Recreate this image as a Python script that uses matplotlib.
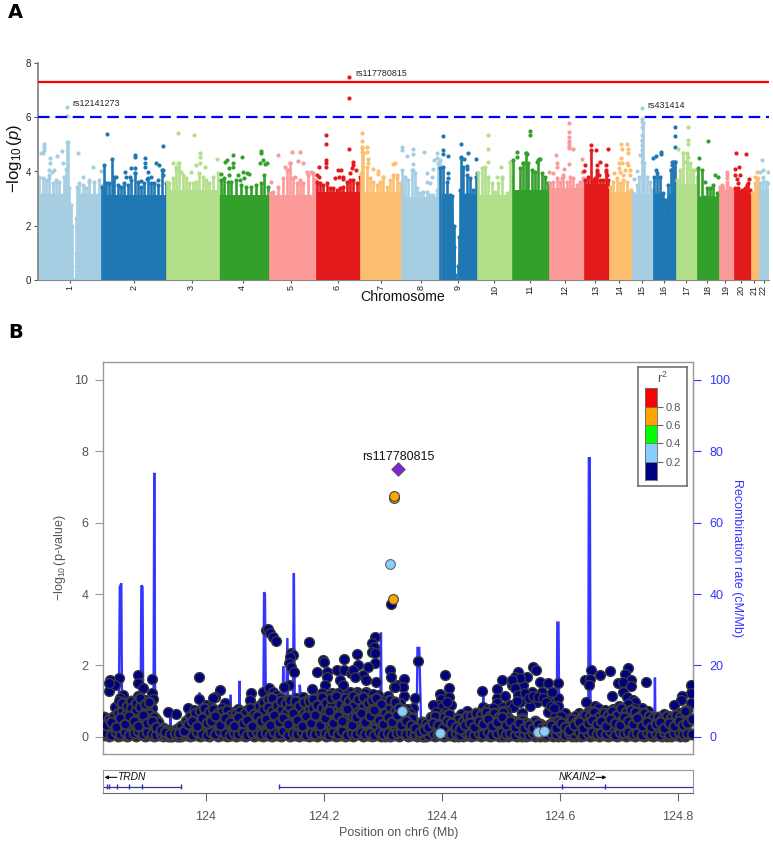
import numpy as np
import matplotlib
matplotlib.use("Agg")
import matplotlib.pyplot as plt

plt.rcParams["font.family"] = ["Liberation Sans", "DejaVu Sans"]
plt.rcParams["mathtext.fontset"] = "custom"
plt.rcParams["mathtext.rm"] = "Liberation Sans"
plt.rcParams["mathtext.it"] = "Liberation Sans:italic"

# ---- Panel A: Manhattan plot, position is a cumulative genome position
chrom_names = ["1", "2", "3", "4", "5", "6", "7", "8", "9", "10", "11", "12", "13", "14", "15",
               "16", "17", "18", "19", "20", "21", "22"]
chrom_ends = [64, 127.5, 179.5, 229.5, 277, 322, 364, 402, 438.7, 474, 509.7, 544.7, 570, 592.7,
              614.3, 637.7, 659, 679.7, 695, 711.7, 720, 731]
# height up to which each chromosome is a solid block
chrom_solid = [3.2, 3.13, 3.3, 3.13, 3.13, 3.25, 3.25, 3.05, 3.2, 3.13, 3.3, 3.4, 3.55, 3.25, 3.2, 3.2, 3.55, 3.1,
               3.35, 3.3, 3.2, 3.3]
paired = ["#a6cee3", "#1f78b4", "#b2df8a", "#33a02c", "#fb9a99", "#e31a1c", "#fdbf6f"]

# tallest SNP read at positions along each chromosome
chr1_top = [(0, 3.7), (1.3, 3.8), (4.7, 3.75), (8, 3.69), (11.3, 3.75), (14.7, 3.56), (18, 3.69), (21.3, 3.62),
            (26.3, 3.81), (27.5, 4.1), (28.5, 5.1), (29.5, 5.1), (30.5, 3.4), (32.7, 2.76), (33.5, 2.0), (34.3, 0.5),
            (34.6, 0), (37.2, 0), (37.5, 1.0), (38, 2.27), (38.7, 3.44), (41.3, 3.56), (44.7, 3.5), (48, 3.38),
            (51.3, 3.62), (56.3, 3.62), (61.3, 3.69), (64, 3.5)]
chr2_top = [(64, 3.44), (66.3, 4.24), (68, 3.56), (71.3, 3.56), (74, 4.45), (76.3, 3.81), (79.7, 3.5), (83, 3.44),
            (86.3, 3.56), (89.7, 3.5), (93, 3.69), (97.3, 3.93), (99.7, 3.62), (103, 3.44), (106.3, 3.56),
            (109.7, 3.75), (113, 3.56), (116.3, 3.56), (119.7, 3.5), (124, 4.05), (127.5, 3.56)]
chr3_top = [(128.7, 3.62), (131.3, 3.56), (134.7, 3.75), (138, 4.05), (141.3, 4.3), (144.7, 3.87), (148, 3.75),
            (151.3, 3.56), (154.7, 3.56), (158, 3.62), (161.3, 3.93), (164.7, 3.81), (168, 3.69), (171.3, 3.56),
            (174.7, 3.81), (179.5, 3.93)]
chr4_top = [(183, 3.69), (186.3, 3.75), (189.7, 3.62), (193, 3.62), (198, 3.69), (203, 3.5), (208, 3.44), (213, 3.44),
            (218, 3.5), (223, 3.56), (226.3, 3.87), (229.5, 3.44)]
chr5_top = [(232, 3.19), (235.3, 3.26), (240.3, 3.44), (245.3, 3.75), (248.7, 4.05), (252, 4.3), (255.3, 3.75),
            (258.7, 3.56), (262, 3.69), (265.3, 3.56), (270.3, 3.87), (275.3, 3.93), (277, 3.69)]
chr6_top = [(278.7, 3.62), (282, 3.56), (285.3, 3.5), (288.7, 3.56), (292, 3.38), (295.3, 3.38), (298.7, 3.32),
            (302, 3.38), (305.3, 3.44), (308.7, 3.62), (312, 3.69), (315.3, 3.69), (318.7, 3.56), (322, 3.81)]
chr7_top = [(322.7, 3.93), (323.7, 4.85), (325.3, 4.67), (328.7, 4.18), (332, 3.75), (335.3, 3.62), (338.7, 3.5),
            (342, 3.62), (345.3, 3.81), (348.7, 3.44), (352, 3.69), (355.3, 3.87), (358.7, 3.75), (362, 3.56),
            (364, 3.5)]
chr8_top = [(364.3, 4.05), (367, 3.81), (370.3, 3.69), (373.7, 4.05), (377, 3.93), (378.7, 3.38), (382, 3.19),
            (385.3, 3.26), (388.7, 3.26), (392, 3.13), (395.3, 3.13), (398.7, 3.32), (400.3, 4.3), (402, 4.42)]
chr9_top = [(402, 4.12), (405.3, 4.18), (408.7, 3.62), (412, 3.13), (414, 3.1), (415.5, 2.0), (416.3, 1.2), (417, 0.2),
            (417.2, 0), (419.5, 0), (419.7, 0.5), (421, 1.6), (422, 3.3), (422.5, 4.5), (425.3, 4.18), (428.7, 3.87),
            (432, 3.75), (435.3, 3.32), (438, 3.81), (438.7, 3.93)]
chr10_top = [(440.3, 3.93), (443.7, 4.12), (447, 4.18), (450.3, 3.81), (453.7, 3.56), (457, 3.26), (460.3, 3.56),
             (463.7, 3.75), (468.7, 3.19), (472, 4.36), (474, 3.81)]
chr11_top = [(475.3, 4.42), (482, 4.12), (485.3, 4.3), (488, 4.67), (490.3, 4.3), (493.7, 4.05), (497, 3.99),
             (500.3, 4.42), (503.7, 3.93), (507, 3.81), (509.7, 3.56)]
chr12_top = [(512, 3.56), (515.3, 3.62), (518.7, 3.75), (522, 3.62), (525.3, 3.81), (528.7, 3.62), (532, 3.81),
             (535.3, 3.75), (538.7, 3.5), (542, 3.62), (544.7, 3.75)]
chr13_top = [(547, 3.69), (550.3, 3.81), (552.7, 4.79), (554.7, 3.69), (557, 3.75), (559.3, 4.05), (562, 3.69),
             (565.3, 3.69), (568, 4.05), (570, 3.69)]
chr14_top = [(572, 3.44), (575.3, 3.62), (578.7, 3.75), (582, 3.56), (585.3, 3.69), (588.7, 3.62), (592, 3.26),
             (592.7, 3.32)]
chr15_top = [(595.3, 3.19), (598.7, 3.5), (601.3, 3.81), (603.7, 5.16), (604.7, 5.78), (606, 4.3), (608.7, 3.81),
             (612, 3.62), (614.3, 3.32)]
chr16_top = [(616, 3.81), (618.7, 3.93), (622, 3.81), (624.7, 3.19), (626, 2.2), (627.3, 2.95), (630.3, 3.5),
             (633, 4.05), (634.7, 4.36), (637, 4.36), (637.7, 3.56)]
chr17_top = [(639.3, 3.69), (642, 4.05), (645.3, 4.67), (648.7, 4.67), (652, 4.3), (655.3, 4.05), (659, 3.81)]
chr18_top = [(660.3, 4.12), (663.7, 4.05), (666, 3.07), (668.7, 3.38), (672, 3.38), (675.3, 3.5), (678.7, 3.19),
             (679.7, 3.13)]
chr19_top = [(682, 3.44), (685.3, 3.38), (688.7, 3.5), (692, 3.38), (695, 3.32)]
chr20_top = [(697, 3.38), (700.3, 3.38), (703.7, 3.32), (707, 3.38), (710.3, 3.56), (711.7, 3.32)]
chr21_top = [(713.7, 3.19), (717, 3.56), (719.3, 3.69), (720, 3.5)]
chr22_top = [(722, 3.56), (724.7, 3.81), (728, 3.62), (731, 3.56)]

# single SNPs standing above the mass
chr1_pts = [(29, 6.38), (29, 6.03), (3, 4.69), (6.3, 5.01), (6.3, 4.92), (6.3, 4.79), (4.7, 4.67), (12, 4.49), (12, 4.3),
            (11.3, 4.05), (18.7, 4.57), (24, 4.77), (24.7, 4.3), (16.3, 4.05), (14, 3.99), (11.3, 3.87), (40.3, 4.67),
            (55.3, 4.18), (63, 4.02), (44.7, 3.81), (50.7, 3.69)]
chr2_pts = [(69, 5.38), (124.7, 4.95), (97.3, 4.61), (97.3, 4.52), (107, 4.49), (107, 4.33), (118, 4.33), (120.7, 4.23),
            (97.3, 4.12), (93, 4.12), (87.3, 3.99), (97.3, 3.93), (88, 3.81), (92.3, 3.81), (107, 4.18), (109.7, 3.99),
            (113, 3.81), (108.7, 3.71), (103, 3.65), (124.7, 4.05), (124.7, 3.87), (119.7, 3.69), (78, 3.81)]
chr3_pts = [(140.3, 5.43), (156, 5.33), (162, 4.69), (162, 4.55), (178.7, 4.47), (162, 4.33), (158, 4.24), (139.7, 4.3),
            (134.7, 4.3), (153, 3.99), (167.3, 4.15), (138, 4.18), (143, 3.99)]
chr4_pts = [(195.3, 4.62), (204, 4.55), (222.7, 4.77), (222.7, 4.67), (229, 4.3), (224.7, 4.42), (222, 4.33),
            (226.7, 4.28), (188.7, 4.42), (187.3, 4.36), (195.3, 4.3), (194.7, 4.18), (190.7, 4.12), (183, 3.91),
            (204.7, 3.99), (208.7, 3.93), (211.3, 3.91), (199.7, 3.87), (191.3, 3.87), (202, 3.69), (206.3, 3.75)]
chr5_pts = [(239.7, 4.61), (253.7, 4.73), (262, 4.71), (260.3, 4.4), (264.7, 4.3), (252, 4.33), (247, 4.18), (268.7, 3.99),
            (272.7, 3.99), (233, 3.62), (250.3, 4.05), (257, 3.81)]
chr6_pts = [(311, 7.5), (311, 6.7), (288, 5.35), (288, 5.01), (311, 4.83), (288, 4.42), (288, 4.33), (288, 4.18),
            (281.3, 4.15), (315.3, 4.36), (315.3, 4.24), (313.7, 4.12), (300.3, 4.05), (302.7, 4.05), (318, 4.05),
            (312, 3.93), (297, 3.75), (301.3, 3.81), (304.7, 3.81), (304.7, 3.71), (278.7, 3.87), (281.3, 3.81)]
chr7_pts = [(324, 5.41), (324, 5.13), (324, 4.9), (324, 4.73), (328.7, 4.92), (328.7, 4.73), (330.3, 4.45), (330.3, 4.3),
            (357, 4.3), (355.3, 4.26), (335.3, 4.08), (340.3, 4.02), (340.3, 3.91), (345.3, 3.81), (358.7, 3.87)]
chr8_pts = [(364.3, 4.89), (364.3, 4.79), (375.3, 4.84), (375.3, 4.65), (369.3, 4.58), (386.3, 4.72), (375.3, 4.26),
            (398.7, 4.67), (398.7, 4.49), (396.3, 4.42), (375.3, 4.05), (388.7, 3.93), (393.7, 3.78), (388.7, 3.62),
            (392, 3.56), (394.7, 4.08)]
chr9_pts = [(404.7, 5.3), (404.7, 4.79), (404.7, 4.63), (410, 4.56), (422.7, 5.03), (430, 4.67), (422.7, 4.55),
            (426, 4.45), (438.2, 4.47), (428.7, 4.2), (428.7, 4.08), (410.3, 3.93), (410.3, 3.75)]
chr10_pts = [(450, 5.36), (450, 4.82), (450.3, 4.36), (462.7, 4.18), (472, 4.36), (463.7, 3.81), (459.3, 3.81)]
chr11_pts = [(492, 5.51), (492, 5.35), (488, 4.67), (501.3, 4.45), (498.7, 4.36), (479.3, 4.73), (479.3, 4.55),
             (488.7, 4.65), (502, 4.45), (485, 4.3)]
chr12_pts = [(531.3, 5.78), (531.3, 5.45), (531.3, 5.29), (531.3, 5.14), (531.3, 5.04), (531.3, 4.94), (531.3, 4.85),
             (535.3, 4.83), (517.7, 4.62), (544.2, 4.47), (531.3, 4.28), (526, 4.1), (511.3, 3.99), (514.7, 3.96),
             (544.3, 3.99), (523.7, 3.75), (525.3, 3.87), (518.7, 4.3), (518.7, 4.18)]
chr13_pts = [(552.7, 4.98), (558.3, 4.79), (569.5, 4.84), (562, 4.34), (559.3, 4.24), (568, 4.24), (547.3, 4.24),
             (546, 4.03), (559.3, 3.99), (568, 3.99), (569.3, 3.87), (558.7, 3.87), (561.3, 3.87)]
chr14_pts = [(583.3, 5.01), (588.7, 5.01), (590.3, 4.82), (583.7, 4.82), (590.3, 4.67), (582.7, 4.51), (580.7, 4.33),
             (583.7, 4.33), (588.7, 4.33), (590.3, 4.24), (581.3, 4.14), (587, 4.05), (592, 4.05), (582, 3.99),
             (576.3, 3.93), (592, 3.87), (585.3, 3.87)]
chr15_pts = [(604.3, 6.33), (604.3, 5.95), (604.3, 5.84), (604.3, 5.65), (604.3, 5.35), (604.3, 5.14), (604.3, 4.98),
             (602, 4.61), (599.3, 4.03), (596, 3.72), (604.3, 4.79), (604.3, 4.36)]
chr16_pts = [(637, 5.65), (637, 5.32), (637, 4.89), (623, 4.71), (623, 4.63), (618, 4.57), (615.3, 4.49), (633.7, 4.36),
             (633.7, 4.24), (632.7, 4.05), (637, 4.36), (618, 4.05)]
chr17_pts = [(649.7, 5.63), (649.7, 5.16), (649.7, 5.01), (640.3, 4.83), (645.3, 4.67), (650.3, 4.55), (647, 4.36),
             (650.3, 4.3), (657, 4.05), (648.7, 4.12)]
chr18_pts = [(669.7, 5.11), (661, 4.5), (677, 3.86), (679.5, 3.78), (667.3, 3.6)]
chr19_pts = [(689.3, 3.99), (689.3, 3.87), (689.3, 3.75), (689.3, 3.62), (683.7, 3.5)]
chr20_pts = [(698.3, 4.67), (708, 4.65), (700.7, 4.18), (697, 4.08), (702, 3.87), (697, 3.87), (698.7, 3.71), (700.3, 3.59),
             (711.3, 3.71), (708.7, 3.5)]
chr21_pts = [(719.3, 3.98), (717, 3.81), (719.5, 3.75)]
chr22_pts = [(724, 4.42), (722, 3.99), (725.3, 4.05), (730.3, 3.99)]

chrom_tops = [chr1_top, chr2_top, chr3_top, chr4_top, chr5_top, chr6_top, chr7_top, chr8_top, chr9_top, chr10_top,
              chr11_top, chr12_top, chr13_top, chr14_top, chr15_top, chr16_top, chr17_top, chr18_top, chr19_top,
              chr20_top, chr21_top, chr22_top]
chrom_pts = [chr1_pts, chr2_pts, chr3_pts, chr4_pts, chr5_pts, chr6_pts, chr7_pts, chr8_pts, chr9_pts, chr10_pts,
             chr11_pts, chr12_pts, chr13_pts, chr14_pts, chr15_pts, chr16_pts, chr17_pts, chr18_pts, chr19_pts,
             chr20_pts, chr21_pts, chr22_pts]

genome_line = 7.3
suggestive_line = 6
top_snps = [("rs12141273", 34, 6.52), ("rs117780815", 317, 7.63), ("rs431414", 609, 6.45)]

# ---- Panel B: regional association plot
lead_snp = (124.326, 7.5)
orange_snps = [(124.318, 6.69), (124.319, 6.73), (124.3165, 3.87)]
blue_snps = [(124.312, 4.85), (124.332, 0.74), (124.397, 0.12), (124.563, 0.15), (124.573, 0.17)]

# low LD SNPs above the dense band
navy_upper = [(124.3136, 3.72), (124.101, 3.0), (124.105, 3.02), (124.109, 2.91), (124.114, 2.81), (124.119, 2.68),
              (124.174, 2.66), (124.287, 2.79), (124.281, 2.63), (124.284, 2.53), (124.281, 2.37), (124.287, 2.35),
              (124.287, 2.07), (124.256, 2.32), (124.234, 2.19), (124.199, 2.16), (124.2, 2.09), (124.144, 2.35),
              (124.147, 2.28), (124.142, 2.25), (124.14, 2.07), (124.144, 1.97), (124.15, 1.81), (124.188, 1.81),
              (124.205, 1.83), (124.205, 1.69), (124.222, 1.88), (124.234, 1.88), (124.245, 1.79), (124.258, 2.02),
              (124.25, 1.88), (124.267, 1.74), (124.275, 1.97), (124.228, 1.58), (124.233, 1.46), (124.253, 1.69),
              (124.272, 1.6), (124.312, 1.86), (124.313, 1.69), (124.202, 1.46), (124.288, 1.53), (124.318, 1.41),
              (124.326, 1.46), (123.989, 1.67), (123.885, 1.72), (123.884, 1.52), (123.908, 1.63), (123.853, 1.64),
              (123.837, 1.6), (123.835, 1.3), (123.846, 1.46), (123.836, 1.5), (123.894, 1.36), (124.024, 1.32),
              (124.077, 1.22), (124.075, 1.04), (124.015, 1.13), (124.032, 0.94), (124.012, 1.08), (123.988, 1.06),
              (124.097, 1.27), (124.106, 1.36), (124.114, 1.27), (124.119, 1.18), (124.14, 1.46), (124.133, 1.41),
              (124.179, 1.34), (124.196, 1.22), (124.214, 1.24), (124.244, 1.27), (124.256, 1.27), (124.272, 1.27),
              (124.292, 1.18), (124.309, 1.15), (123.86, 1.18), (123.908, 1.22), (123.911, 1.06), (123.854, 1.08),
              (123.885, 1.15), (123.899, 1.04), (123.871, 0.99), (123.936, 0.69), (123.95, 0.64), (123.97, 0.8),
              (123.908, 0.8), (123.979, 0.76), (124.36, 2.12), (124.405, 1.74), (124.336, 1.62), (124.412, 1.36),
              (124.468, 1.3), (124.501, 1.58), (124.493, 1.34), (124.529, 1.83), (124.524, 1.69), (124.555, 1.97),
              (124.559, 1.88), (124.566, 1.55), (124.58, 1.5), (124.596, 1.52), (124.642, 1.6), (124.653, 1.86),
              (124.651, 1.62), (124.649, 1.46), (124.668, 1.74), (124.685, 1.85), (124.716, 1.93), (124.71, 1.77),
              (124.72, 1.58), (124.699, 1.5), (124.707, 1.53), (124.72, 1.43), (124.745, 1.54), (124.707, 1.25),
              (124.688, 1.15), (124.713, 1.11), (124.723, 1.04), (124.728, 0.99), (124.644, 0.99), (124.822, 1.46),
              (124.822, 1.24), (124.822, 0.94), (124.806, 1.15), (124.805, 1.04), (124.794, 0.9), (124.739, 0.8),
              (124.744, 0.62), (124.632, 0.68), (124.659, 0.87), (124.665, 0.8), (124.69, 0.78), (124.518, 1.46),
              (124.538, 1.46), (124.544, 1.69), (124.532, 1.64), (124.518, 1.6), (124.524, 1.36), (124.529, 1.18),
              (124.544, 1.13), (124.552, 1.27), (124.561, 0.99), (124.549, 0.87), (124.569, 1.27), (124.58, 1.04),
              (124.592, 0.99), (124.597, 1.08), (124.597, 0.87), (124.586, 1.27), (124.579, 0.71), (124.592, 0.59),
              (124.609, 0.66), (124.617, 0.52), (124.354, 1.08), (124.351, 0.8), (124.336, 1.15), (124.329, 0.94),
              (124.334, 1.41), (124.32, 1.41), (124.396, 1.21), (124.398, 1.07), (124.394, 0.9), (124.412, 1.11),
              (124.416, 0.9), (124.4, 0.85), (124.384, 0.9), (124.405, 0.71), (124.414, 0.46), (124.442, 0.74),
              (124.47, 0.85), (124.459, 0.52), (124.493, 1.08), (124.494, 0.94), (124.506, 1.15), (124.504, 0.83),
              (124.515, 0.9), (124.521, 0.85), (124.532, 0.99), (124.536, 0.68), (124.536, 0.52), (124.49, 0.71),
              (124.496, 0.57), (124.51, 0.59)]

# mid level SNPs filling the taller stretches of the band
navy_mid = [(123.846, 0.85), (123.852, 1.0), (123.857, 0.8), (123.863, 0.92), (123.869, 0.72), (123.876, 0.9),
            (123.88, 0.68), (123.888, 0.84), (123.893, 0.7), (123.9, 0.78), (123.906, 0.62), (123.915, 0.5),
            (124.0, 0.9), (124.008, 0.84), (124.018, 0.72), (124.027, 0.8), (124.035, 0.6), (124.047, 0.7),
            (124.055, 0.78), (124.062, 0.6), (124.07, 0.76), (124.082, 0.72), (124.09, 0.6), (124.094, 0.9),
            (124.103, 0.84), (124.108, 1.12), (124.111, 0.9), (124.117, 0.98), (124.123, 0.82), (124.126, 1.08),
            (124.131, 0.88), (124.137, 1.04), (124.141, 0.82), (124.147, 0.96), (124.152, 1.1), (124.156, 0.78),
            (124.161, 0.94), (124.164, 1.12), (124.169, 0.84), (124.172, 1.04), (124.177, 0.76), (124.183, 0.92),
            (124.186, 1.1), (124.192, 0.84), (124.194, 1.02), (124.199, 0.76), (124.207, 0.92), (124.21, 1.18),
            (124.215, 0.8), (124.218, 1.02), (124.224, 1.22), (124.225, 0.88), (124.23, 1.06), (124.233, 0.76),
            (124.238, 1.18), (124.241, 0.94), (124.246, 1.1), (124.248, 0.78), (124.252, 1.04), (124.255, 1.2),
            (124.26, 0.86), (124.263, 1.12), (124.268, 0.96), (124.27, 1.22), (124.276, 0.84), (124.278, 1.08),
            (124.283, 1.2), (124.285, 0.92), (124.29, 1.06), (124.294, 0.8), (124.299, 1.0), (124.302, 0.72),
            (124.307, 0.9), (124.315, 0.98), (124.323, 0.82), (124.33, 0.6), (124.34, 0.78), (124.345, 0.66),
            (124.39, 0.7), (124.402, 0.62), (124.408, 0.98), (124.423, 0.52), (124.433, 0.64), (124.448, 0.6),
            (124.464, 0.66), (124.476, 0.78), (124.482, 0.62), (124.487, 0.82), (124.501, 0.74), (124.508, 0.72),
            (124.527, 1.02), (124.54, 1.24), (124.548, 1.1), (124.555, 1.16), (124.563, 1.12), (124.572, 1.1),
            (124.576, 0.98), (124.584, 0.88), (124.59, 0.82), (124.602, 0.6), (124.625, 0.58), (124.638, 0.62),
            (124.647, 0.7), (124.655, 0.74), (124.67, 0.66), (124.676, 0.76), (124.683, 0.62), (124.694, 0.72),
            (124.7, 0.86), (124.708, 0.76), (124.716, 0.92), (124.718, 0.74), (124.725, 0.82), (124.732, 0.7),
            (124.75, 0.72), (124.755, 0.6), (124.776, 0.64), (124.785, 0.6), (124.801, 0.68), (124.816, 0.76)]

# dense band near zero
band_pos = [123.828, 123.835, 123.842, 123.851, 123.858, 123.866, 123.873, 123.882, 123.889, 123.897, 123.904,
            123.912, 123.919, 123.927, 123.935, 123.942, 123.951, 123.958, 123.966, 123.973, 123.981, 123.99,
            123.997, 124.005, 124.012, 124.02, 124.028, 124.036, 124.043, 124.051, 124.058, 124.066, 124.074,
            124.081, 124.09, 124.097, 124.105, 124.112, 124.12, 124.128, 124.135, 124.143, 124.151, 124.158,
            124.166, 124.174, 124.181, 124.189, 124.197, 124.204, 124.212, 124.22, 124.227, 124.235, 124.243,
            124.25, 124.258, 124.266, 124.274, 124.281, 124.289, 124.296, 124.304, 124.312, 124.32, 124.327,
            124.335, 124.343, 124.35, 124.357, 124.366, 124.373, 124.381, 124.389, 124.397, 124.404, 124.412,
            124.42, 124.427, 124.435, 124.443, 124.45, 124.458, 124.466, 124.474, 124.481, 124.489, 124.497,
            124.504, 124.512, 124.52, 124.527, 124.535, 124.543, 124.551, 124.558, 124.566, 124.574, 124.581,
            124.589, 124.597, 124.605, 124.612, 124.62, 124.628, 124.635, 124.643, 124.651, 124.658, 124.666,
            124.674, 124.681, 124.689, 124.697, 124.704, 124.712, 124.72, 124.727, 124.735, 124.743, 124.751,
            124.758, 124.766, 124.773, 124.781, 124.789, 124.797, 124.804, 124.812, 124.82]
band_logp = [[0.05, 0.22, 0.55], [0.03, 0.3, 0.12, 0.5], [0.08, 0.2, 0.38, 0.57], [0.02, 0.16, 0.35, 0.68],
             [0.06, 0.27, 0.5, 0.72, 0.95], [0.03, 0.18, 0.44, 0.66, 0.88], [0.1, 0.33, 0.6, 1.02, 0.8],
             [0.04, 0.22, 0.47, 0.76, 0.96], [0.07, 0.3, 0.54, 0.85, 1.08], [0.02, 0.2, 0.42, 0.7, 0.92],
             [0.05, 0.28, 0.5, 0.63, 0.98], [0.03, 0.14, 0.34, 0.55], [0.06, 0.2, 0.42], [0.02, 0.1, 0.25],
             [0.04, 0.12, 0.2], [0.02, 0.08, 0.16], [0.03, 0.1, 0.22], [0.02, 0.14, 0.3], [0.05, 0.22, 0.46],
             [0.03, 0.16, 0.38, 0.6], [0.06, 0.3, 0.52, 0.68], [0.02, 0.2, 0.44, 0.72], [0.05, 0.27, 0.5, 0.82],
             [0.03, 0.14, 0.38, 0.7], [0.08, 0.32, 0.56, 0.78], [0.02, 0.22, 0.46, 0.66], [0.05, 0.18, 0.4, 0.7],
             [0.03, 0.25, 0.5, 0.76], [0.06, 0.14, 0.36, 0.62], [0.02, 0.2, 0.48, 0.68], [0.05, 0.3, 0.44, 0.72],
             [0.03, 0.16, 0.4, 0.66], [0.07, 0.24, 0.52, 0.8], [0.02, 0.18, 0.42, 0.64], [0.05, 0.28, 0.56, 0.86],
             [0.03, 0.14, 0.46, 0.98, 0.76], [0.06, 0.3, 0.52, 1.06, 0.84], [0.02, 0.22, 0.44, 0.72, 1.1],
             [0.05, 0.16, 0.58, 0.9], [0.03, 0.26, 0.48, 0.76, 1.02], [0.07, 0.2, 0.4, 0.66, 0.94],
             [0.02, 0.28, 0.54, 0.84, 1.03], [0.05, 0.18, 0.44, 0.7, 1.02], [0.03, 0.3, 0.6, 0.88],
             [0.06, 0.22, 0.42, 0.68, 0.98], [0.02, 0.14, 0.36, 0.76, 1.0], [0.05, 0.26, 0.5, 0.82, 1.05],
             [0.03, 0.2, 0.46, 0.62, 0.9], [0.07, 0.3, 0.54, 0.8, 1.12], [0.02, 0.18, 0.42, 0.7, 0.96],
             [0.05, 0.24, 0.58, 0.86, 1.08], [0.03, 0.34, 0.5, 0.74, 1.14], [0.06, 0.16, 0.44, 0.66, 0.92],
             [0.02, 0.26, 0.56, 0.8, 1.1], [0.05, 0.2, 0.38, 0.72, 1.0], [0.03, 0.32, 0.6, 0.88, 1.16],
             [0.07, 0.14, 0.46, 0.7, 1.06], [0.02, 0.28, 0.52, 0.84, 1.12], [0.05, 0.22, 0.4, 0.64, 0.96],
             [0.03, 0.18, 0.54, 0.78, 1.04], [0.06, 0.3, 0.48, 0.82, 1.1], [0.02, 0.12, 0.36, 0.62, 0.92],
             [0.04, 0.24, 0.44, 0.68], [0.02, 0.18, 0.5, 0.84, 1.04], [0.05, 0.28, 0.56, 0.72, 0.98],
             [0.03, 0.16, 0.42, 0.66, 0.82], [0.07, 0.3, 0.5, 0.74], [0.02, 0.22, 0.44, 0.6], [0.05, 0.14, 0.34, 0.52],
             [0.03, 0.18, 0.28], [0.04, 0.1, 0.3, 0.42], [0.02, 0.2, 0.38], [0.05, 0.14, 0.32, 0.56],
             [0.03, 0.24, 0.42, 0.6], [0.06, 0.2, 0.36], [0.02, 0.16, 0.3, 0.56], [0.05, 0.26, 0.44, 0.64],
             [0.03, 0.12, 0.3], [0.04, 0.2, 0.36, 0.5], [0.02, 0.16, 0.3, 0.46], [0.05, 0.24, 0.42, 0.58],
             [0.03, 0.14, 0.34, 0.6], [0.06, 0.28, 0.44, 0.68], [0.02, 0.18, 0.36, 0.62], [0.05, 0.24, 0.5, 0.7],
             [0.03, 0.12, 0.38, 0.6], [0.06, 0.26, 0.46, 0.66], [0.02, 0.18, 0.32, 0.56], [0.04, 0.22, 0.5, 0.7],
             [0.03, 0.14, 0.36, 0.54], [0.05, 0.26, 0.44], [0.02, 0.18, 0.36], [0.04, 0.12, 0.3, 0.48],
             [0.03, 0.22, 0.4], [0.05, 0.14, 0.3], [0.02, 0.2, 0.46], [0.04, 0.12, 0.36], [0.03, 0.2, 0.28],
             [0.05, 0.14, 0.34], [0.02, 0.22, 0.42], [0.04, 0.12, 0.28, 0.46], [0.03, 0.18, 0.36], [0.05, 0.12, 0.26],
             [0.02, 0.16, 0.38, 0.5], [0.04, 0.24, 0.42], [0.03, 0.14, 0.34, 0.52], [0.06, 0.22, 0.44, 0.62],
             [0.02, 0.18, 0.36, 0.6], [0.05, 0.28, 0.5, 0.7], [0.03, 0.14, 0.38, 0.56], [0.06, 0.24, 0.44, 0.68],
             [0.02, 0.18, 0.34, 0.62], [0.05, 0.28, 0.5, 0.72], [0.03, 0.12, 0.4, 0.62], [0.06, 0.22, 0.46, 0.8],
             [0.02, 0.3, 0.52, 0.7], [0.05, 0.16, 0.38, 0.76], [0.03, 0.24, 0.44, 0.7], [0.06, 0.14, 0.36, 0.58],
             [0.02, 0.2, 0.48, 0.68], [0.05, 0.28, 0.42, 0.6], [0.03, 0.14, 0.34, 0.52], [0.05, 0.22, 0.46, 0.56],
             [0.02, 0.16, 0.32, 0.5], [0.04, 0.26, 0.44, 0.58], [0.03, 0.12, 0.36, 0.54], [0.05, 0.24, 0.4, 0.62],
             [0.02, 0.18, 0.34, 0.56], [0.04, 0.28, 0.46, 0.74]]

# a second, offset layer of the band where the dots pile up
band2_pos = [123.831, 123.839, 123.847, 123.855, 123.862, 123.87, 123.878, 123.885, 123.893, 123.9, 123.908, 123.916,
             123.923, 123.931, 123.939, 123.947, 123.955, 123.962, 123.97, 123.977, 123.985, 123.993, 124.001, 124.009,
             124.016, 124.024, 124.032, 124.04, 124.047, 124.055, 124.062, 124.07, 124.078, 124.086, 124.093, 124.101,
             124.109, 124.116, 124.124, 124.131, 124.139, 124.147, 124.155, 124.162, 124.17, 124.178, 124.185, 124.193,
             124.201, 124.208, 124.216, 124.224, 124.231, 124.239, 124.247, 124.254, 124.262, 124.27, 124.278, 124.285,
             124.293, 124.3, 124.308, 124.316, 124.324, 124.331, 124.339, 124.347, 124.354, 124.362, 124.37, 124.377,
             124.385, 124.393, 124.401, 124.408, 124.416, 124.424, 124.431, 124.439, 124.447, 124.454, 124.462, 124.47,
             124.478, 124.485, 124.493, 124.501, 124.508, 124.516, 124.524, 124.531, 124.539, 124.547, 124.555, 124.562,
             124.57, 124.578, 124.585, 124.593, 124.601, 124.609, 124.616, 124.624, 124.632, 124.639, 124.647, 124.655,
             124.662, 124.67, 124.678, 124.685, 124.693, 124.701, 124.708, 124.716, 124.724, 124.731, 124.739, 124.747,
             124.755, 124.762, 124.77, 124.777, 124.785, 124.793, 124.801, 124.808, 124.816, 124.824]
band2_low = [0.12, 0.06, 0.15, 0.08, 0.14, 0.05, 0.11, 0.16, 0.07, 0.13, 0.09, 0.05, 0.08, 0.05, 0.03, 0.06, 0.04, 0.08,
             0.12, 0.06, 0.14, 0.09, 0.05, 0.13, 0.07, 0.16, 0.1, 0.05, 0.12, 0.08, 0.15, 0.06, 0.11, 0.14, 0.07, 0.1,
             0.05, 0.13, 0.08, 0.16, 0.06, 0.12, 0.09, 0.15, 0.05, 0.11, 0.07, 0.14, 0.1, 0.06, 0.13, 0.08, 0.16, 0.05,
             0.12, 0.09, 0.14, 0.07, 0.11, 0.06, 0.15, 0.08, 0.12, 0.05, 0.1, 0.14, 0.07, 0.12, 0.09, 0.05, 0.03, 0.06,
             0.12, 0.08, 0.05, 0.13, 0.07, 0.11, 0.05, 0.14, 0.09, 0.06, 0.12, 0.08, 0.15, 0.05, 0.1, 0.13, 0.07, 0.12,
             0.06, 0.14, 0.09, 0.05, 0.11, 0.07, 0.13, 0.05, 0.1, 0.08, 0.14, 0.06, 0.12, 0.09, 0.15, 0.05, 0.11, 0.14,
             0.07, 0.12, 0.09, 0.16, 0.06, 0.13, 0.1, 0.15, 0.07, 0.12, 0.05, 0.14, 0.09, 0.12, 0.06, 0.15, 0.08, 0.11,
             0.14, 0.07, 0.12, 0.09]
band2_high = [0.34, 0.42, 0.28, 0.52, 0.36, 0.58, 0.44, 0.3, 0.62, 0.4, 0.46, 0.28, 0.2, 0.13, 0.09, 0.12, 0.1, 0.18,
              0.36, 0.44, 0.3, 0.54, 0.38, 0.46, 0.6, 0.34, 0.52, 0.42, 0.3, 0.56, 0.38, 0.48, 0.32, 0.6, 0.44, 0.5,
              0.34, 0.62, 0.42, 0.54, 0.36, 0.66, 0.48, 0.32, 0.58, 0.4, 0.62, 0.34, 0.52, 0.72, 0.4, 0.6, 0.46, 0.78,
              0.34, 0.56, 0.68, 0.42, 0.6, 0.76, 0.48, 0.36, 0.56, 0.42, 0.62, 0.34, 0.46, 0.34, 0.26, 0.14, 0.2, 0.28,
              0.4, 0.34, 0.24, 0.44, 0.38, 0.28, 0.22, 0.34, 0.4, 0.28, 0.44, 0.36, 0.5, 0.3, 0.42, 0.56, 0.34, 0.46,
              0.28, 0.38, 0.24, 0.34, 0.26, 0.36, 0.24, 0.28, 0.34, 0.24, 0.4, 0.28, 0.2, 0.34, 0.42, 0.26, 0.4, 0.48,
              0.36, 0.44, 0.3, 0.5, 0.4, 0.34, 0.56, 0.44, 0.36, 0.52, 0.3, 0.42, 0.28, 0.36, 0.42, 0.26, 0.38, 0.3,
              0.44, 0.34, 0.4, 0.5]

# recombination rate trace, cM/Mb
rec_pos = [123.826, 123.852, 123.854, 123.8565, 123.858, 123.889, 123.8905, 123.8925, 123.894, 123.911, 123.9124,
           123.914, 123.939, 123.94, 123.941, 123.987, 123.989, 123.991, 124.041, 124.042, 124.043, 124.056, 124.057,
           124.058, 124.097, 124.0985, 124.1, 124.102, 124.129, 124.131, 124.133, 124.135, 124.138, 124.14, 124.147,
           124.149, 124.151, 124.157, 124.159, 124.162, 124.165, 124.295, 124.2966, 124.298, 124.303, 124.304, 124.306,
           124.31, 124.311, 124.313, 124.357, 124.3585, 124.3615, 124.3645, 124.367, 124.469, 124.47, 124.471,
           124.528, 124.529, 124.53, 124.5945, 124.5955, 124.5975, 124.599, 124.648, 124.649, 124.6505, 124.652, 124.76,
           124.761, 124.762, 124.826]
rec_rate = [0.2, 0.3, 42, 43, 0.3, 0.3, 42.4, 42, 0.3, 0.3, 73.9, 0.3, 0.2, 5.7, 0.2, 0.2, 12.4, 0.2, 0.2, 11.8, 0.2, 0.2,
            15.7, 0.2, 0.2, 40.5, 40, 0.3, 0.3, 19.7, 0.5, 0.3, 27.7, 0.3, 0.3, 45.8, 0.3, 0.3, 14.6, 9, 0.3, 0.3, 29.2,
            0.3, 0.3, 9, 0.3, 0.3, 10.4, 0.3, 0.3, 24.9, 24.9, 4.8, 0.2, 0.2, 14, 0.2, 0.2, 8, 0.2, 0.2, 32, 32, 0.2, 0.2,
            78, 78, 0.2, 0.2, 16.6, 0.2, 0.2]

r2_breaks = [0, 0.2, 0.4, 0.6, 0.8, 1.0]
r2_colors = ["#000080", "#87cefa", "#00ff00", "#ffa500", "#ff0000"]

# gene track
trdn_span = (123.826, 123.9585)
trdn_exons = [123.832, 123.836, 123.850, 123.869, 123.891, 123.9585]
nkain2_span = (124.124, 124.826)
nkain2_exons = [124.124, 124.604, 124.677]

gene_ticks = [124, 124.2, 124.4, 124.6, 124.8]
gene_tick_labels = ["124", "124.2", "124.4", "124.6", "124.8"]

W, H = 773, 846


def px_axes(left, top, right, bottom):
    # axes box from picture pixels
    return fig.add_axes([left / W, 1 - bottom / H, (right - left) / W, (bottom - top) / H])


fig = plt.figure(figsize=(W / 100, H / 100), dpi=100)

# panel A
ax = px_axes(38, 63, 769, 280)
starts = [0] + chrom_ends[:-1]
for i, name in enumerate(chrom_names):
    col = paired[i % 7]
    tx = [p[0] for p in chrom_tops[i]]
    ty = [p[1] for p in chrom_tops[i]]
    xs = [starts[i]] + tx + [chrom_ends[i]]
    ys = [ty[0]] + ty + [ty[-1]]
    ax.fill_between(xs, 0, np.minimum(ys, chrom_solid[i]), color=col, lw=0)
    ax.vlines(tx, 0, ty, color=col, lw=1.9)
    ax.scatter(tx, ty, s=9, color=col, lw=0, zorder=2)
    ax.scatter([p[0] for p in chrom_pts[i]], [p[1] for p in chrom_pts[i]], s=9, color=col, lw=0, zorder=2)
ax.axhline(genome_line, color="#ff0000", lw=1.6, zorder=3)
ax.plot([0, 731], [suggestive_line] * 2, color="#0000ff", lw=1.6, dashes=(5.2, 2.6), zorder=3)
for label, x, y in top_snps:
    ax.text(x, y, label, fontsize=6.4, va="center", color="#222222")
ax.set_xlim(0, 731)
ax.set_ylim(0, 8)
mids = [(a + b) / 2 for a, b in zip(starts, chrom_ends)]
ax.set_xticks(mids)
ax.set_xticklabels(chrom_names, rotation=90, fontsize=6.5, color="#222222")
ax.set_yticks([0, 2, 4, 6, 8])
ax.tick_params(axis="y", labelsize=7, length=3, width=0.8, color="#555555", labelcolor="#222222", pad=2)
ax.tick_params(axis="x", length=2.5, width=0.8, color="#555555", pad=1)
for s in ["top", "right"]:
    ax.spines[s].set_visible(False)
ax.spines["left"].set_color("#888888")
ax.spines["left"].set_linewidth(1.3)
ax.spines["bottom"].set_color("#888888")
ax.set_xlabel("Chromosome", fontsize=10.2, color="#111111", va="center")
ax.xaxis.set_label_coords(0.499, -0.08)
ax.set_ylabel(r"$-\log_{10}(\mathit{p})$", fontsize=12, color="#111111", va="center")
ax.yaxis.set_label_coords(-0.0315, 0.562)
fig.text(8 / W, 1 - 12 / H, "A", fontsize=14, fontweight="bold", family="DejaVu Sans", ha="left", va="center")
fig.text(8 / W, 1 - 333 / H, "B", fontsize=14, fontweight="bold", family="DejaVu Sans", ha="left", va="center")

# panel B
gray = "#999999"
txt = "#555555"
blue = "#3535ff"
axb = px_axes(103.3, 361.7, 693.3, 754.3)
axb.set_xlim(123.826, 124.826)
axb.set_ylim(-0.485, 10.5)
axr = axb.twinx()
axr.set_ylim(-4.85, 105)
axr.plot(rec_pos, rec_rate, color=blue, lw=1.7, zorder=1, solid_joinstyle="miter")
axr.set_yticks([0, 20, 40, 60, 80, 100])
axr.tick_params(axis="y", labelsize=9, length=5.5, width=0.8, color=blue, labelcolor=blue, pad=6)
axb.set_zorder(axr.get_zorder() + 1)
axb.patch.set_visible(False)

band_x = [x for x, ys in zip(band_pos, band_logp) for _ in ys] + band2_pos + band2_pos
band_y = [y for ys in band_logp for y in ys] + band2_low + band2_high
navy_x = [p[0] for p in navy_upper + navy_mid]
navy_y = [p[1] for p in navy_upper + navy_mid]
axb.scatter(navy_x, navy_y, s=50, c="#000080", edgecolors="#3a3a3a", linewidths=1.0, zorder=3)
# the band is drawn with a heavier rim, the overlapping rims read as dark gray
axb.scatter(band_x, band_y, s=50, c="#000080", edgecolors="#3c3c3c", linewidths=1.5, zorder=3)
axb.scatter([p[0] for p in blue_snps], [p[1] for p in blue_snps], s=50, c="#87cefa", edgecolors="#666666",
            linewidths=0.8, zorder=4)
axb.scatter([p[0] for p in orange_snps], [p[1] for p in orange_snps], s=50, c="#ffa500", edgecolors="#444444",
            linewidths=0.8, zorder=4)
axb.scatter([lead_snp[0]], [lead_snp[1]], s=48, c="#7d26cd", marker="D", edgecolors="#555555", linewidths=0.6, zorder=5)
axb.text(lead_snp[0], lead_snp[1] + 0.32, "rs117780815", fontsize=9, ha="center", va="center", color="#111111")

axb.set_yticks([0, 2, 4, 6, 8, 10])
axb.set_xticks([])
axb.tick_params(axis="y", labelsize=9, length=5.8, width=0.8, color=gray, labelcolor=txt, pad=5)
for s in ["top", "left", "bottom", "right"]:
    axb.spines[s].set_color(gray)
    axb.spines[s].set_linewidth(1.0)
    axr.spines[s].set_visible(False)
axr.spines["right"].set_visible(True)
axr.spines["right"].set_color(blue)
axr.spines["right"].set_bounds(0, 100)
axb.set_ylabel(r"$-\log_{10}$(p-value)", fontsize=9, color=txt, va="center")
axb.yaxis.set_label_coords(-0.073, 0.5)
axr.set_ylabel("Recombination rate (cM/Mb)", fontsize=9, color=blue, rotation=270, va="center")
axr.yaxis.set_label_coords(1.0737, 0.5)

# gene track
axg = px_axes(103.3, 770, 693.3, 793)
axg.set_xlim(123.826, 124.826)
axg.set_ylim(0, 1)
gene_col = "#3333aa"
axg.plot(trdn_span, [0.28, 0.28], color=gene_col, lw=0.9)
axg.plot(nkain2_span, [0.28, 0.28], color=gene_col, lw=0.9)
axg.vlines(trdn_exons + nkain2_exons, 0.17, 0.39, color=gene_col, lw=1.0)
axg.text(123.85, 0.68, "TRDN", fontsize=7.4, style="italic", va="center", color="#111111")
axg.annotate("", xy=(123.828, 0.68), xytext=(123.849, 0.68),
             arrowprops=dict(arrowstyle="-|>", color="#111111", lw=0.8, mutation_scale=5, shrinkA=0, shrinkB=0))
axg.text(124.66, 0.68, "NKAIN2", fontsize=7.4, style="italic", ha="right", va="center", color="#111111")
axg.annotate("", xy=(124.679, 0.68), xytext=(124.661, 0.68),
             arrowprops=dict(arrowstyle="-|>", color="#111111", lw=0.8, mutation_scale=5, shrinkA=0, shrinkB=0))
axg.set_xticks(gene_ticks)
axg.set_xticklabels(gene_tick_labels, fontsize=9, color=txt)
axg.set_yticks([])
axg.tick_params(axis="x", length=6, width=0.8, color="#666666", pad=7)
for s in ["top", "left", "right"]:
    axg.spines[s].set_color(gray)
axg.spines["bottom"].set_color("#666666")
axg.set_xlabel("Position on chr6 (Mb)", fontsize=9, color=txt, va="center")
axg.xaxis.set_label_coords(0.5, -1.74)

# r2 legend box
box = px_axes(638.3, 367.3, 687.3, 485.7)
box.set_xticks([])
box.set_yticks([])
box.set_zorder(10)
for s in box.spines.values():
    s.set_color("#666666")
    s.set_linewidth(1.1)
box.text(0.49, 0.91, r"r$^2$", fontsize=9, color=txt, ha="center", va="center", transform=box.transAxes)

leg = px_axes(645, 388.3, 657, 480)
leg.set_zorder(11)
leg.bar([0.5] * 5, np.diff(r2_breaks), bottom=r2_breaks[:-1], width=1, color=r2_colors, edgecolor="#666666", lw=0.4)
leg.set_xlim(0, 1)
leg.set_ylim(0, 1)
leg.set_xticks([])
leg.yaxis.tick_right()
leg.set_yticks([0.2, 0.4, 0.6, 0.8])
leg.set_yticklabels(["0.2", "0.4", "0.6", "0.8"])
leg.tick_params(axis="y", labelsize=8, length=4.5, width=0.8, color="#666666", labelcolor=txt, pad=2)
for s in leg.spines.values():
    s.set_color("#666666")
    s.set_linewidth(0.6)

fig.savefig("out.png", dpi=100)
